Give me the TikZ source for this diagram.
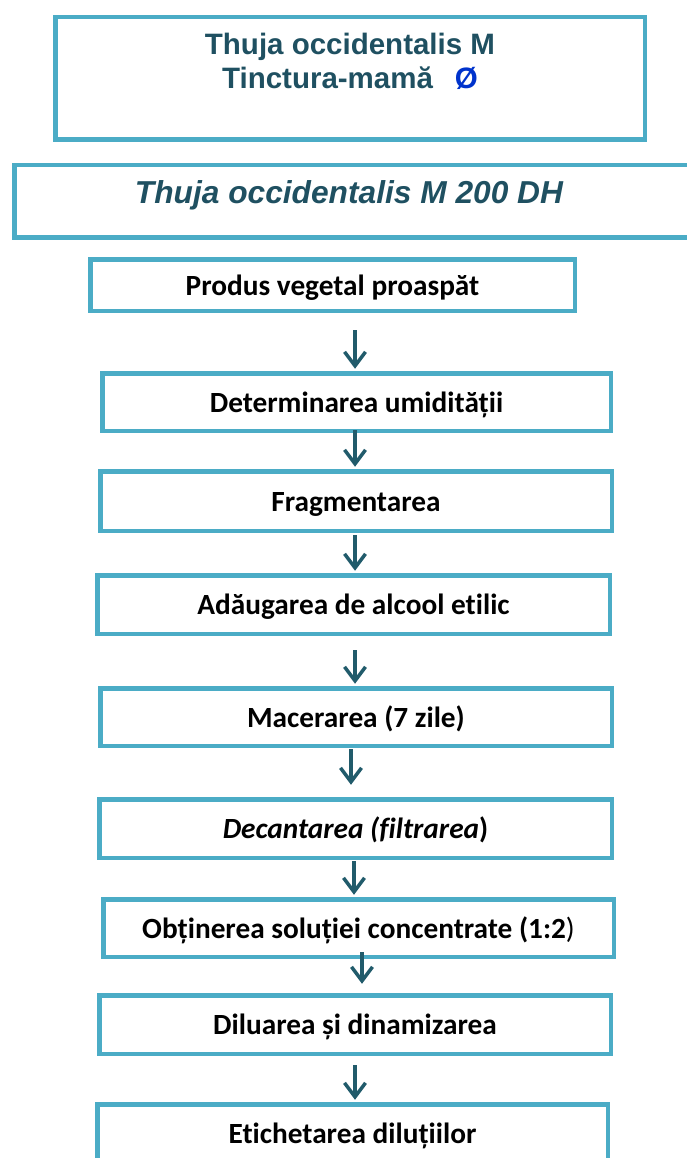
\documentclass[tikz,border=0pt]{standalone}
\usepackage{fontspec}
\setmainfont{Carlito}[Ligatures=NoCommon]
\newfontfamily\arialf{Liberation Sans}[Ligatures=NoCommon]
\usetikzlibrary{arrows.meta}
\definecolor{boxc}{HTML}{4BACC6}
\definecolor{tealc}{HTML}{1F5061}
\definecolor{arrc}{HTML}{215B6B}
\definecolor{phic}{HTML}{0033CC}
\begin{document}
\begin{tikzpicture}[x=1pt,y=-1pt,
  box/.style={draw=boxc, line width=4.5pt, inner sep=0pt, align=center,
    font=\fontsize{29.3}{35}\selectfont\bfseries, text height=25pt, text depth=5pt},
  topbox/.style={box, text=tealc},
  arr/.style={draw=arrc, line width=3.5pt, -{Straight Barb[length=14pt,width=21pt]}}]
\useasboundingbox (0,0) rectangle (686,1158);

% top boxes
\node[topbox, minimum width=589.5pt, minimum height=122.5pt,
  font=\arialf\bfseries\fontsize{29.5}{34}\selectfont, text height=10pt, text depth=57pt]
  (b1) at (350,78.5)
  {\begin{tabular}[t]{@{}c@{}}Thuja occidentalis M\\Tinctura-mamă\hspace{22pt}{\color{phic}Ø}\end{tabular}};
\node[topbox, minimum width=683.5pt, minimum height=72.5pt,
  font=\arialf\bfseries\itshape\fontsize{31.7}{36}\selectfont, text height=20pt, text depth=15pt]
  (b2) at (356,201.5) {\kern-14pt Thuja occidentalis M 200 DH};

% process boxes
\node[box, minimum width=484.5pt, minimum height=51.5pt] (b3) at (332.5,285) {Produs vegetal proaspăt};
\node[box, minimum width=508.5pt, minimum height=57.5pt] (b4) at (356.5,402) {Determinarea umidității};
\node[box, minimum width=511.5pt, minimum height=59.5pt] (b5) at (356,501) {Fragmentarea};
\node[box, minimum width=512.5pt, minimum height=58.5pt] (b6) at (353.5,604.5) {Adăugarea de alcool etilic};
\node[box, minimum width=511.5pt, minimum height=57.5pt] (b7) at (356,717) {Macerarea (7 zile)};
\node[box, minimum width=512.5pt, minimum height=58.5pt] (b8) at (355.5,828.5) {\textit{Decantarea (filtrarea})};
\node[box, minimum width=510.5pt, minimum height=57.5pt] (b9) at (358.5,928) {Obținerea soluției concentrate (1:2{\mdseries )}};
\node[box, minimum width=511.5pt, minimum height=58.5pt] (b10) at (355,1024.5) {Diluarea și dinamizarea};
\node[box, minimum width=510.5pt, minimum height=58.5pt] (b11) at (352.5,1133.5) {Etichetarea diluțiilor};

% connectors
\draw[arr] ([xshift=22.5pt,yshift=-17.25pt]b3.south) -- ([xshift=-1.5pt,yshift=2.25pt]b4.north);
\draw[arr] ([xshift=-1.5pt,yshift=2.75pt]b4.south) -- ([xshift=-1pt,yshift=2.25pt]b5.north);
\draw[arr] ([xshift=-1pt,yshift=-2.25pt]b5.south) -- ([xshift=1.5pt,yshift=2.25pt]b6.north);
\draw[arr] ([xshift=1.5pt,yshift=-14.25pt]b6.south) -- ([xshift=-1pt,yshift=2.25pt]b7.north);
\draw[arr] ([xshift=-5pt,yshift=-1.25pt]b7.south) -- ([xshift=-4.5pt,yshift=12.25pt]b8.north);
\draw[arr] ([xshift=-1.5pt,yshift=-1.25pt]b8.south) -- ([xshift=-4.5pt,yshift=2.25pt]b9.north);
\draw[arr] ([xshift=3.5pt,yshift=6.75pt]b9.south) -- ([xshift=7pt,yshift=9.25pt]b10.north);
\draw[arr] ([xshift=0pt,yshift=-9.25pt]b10.south) -- ([xshift=2.5pt,yshift=2.25pt]b11.north);
\end{tikzpicture}
\end{document}
